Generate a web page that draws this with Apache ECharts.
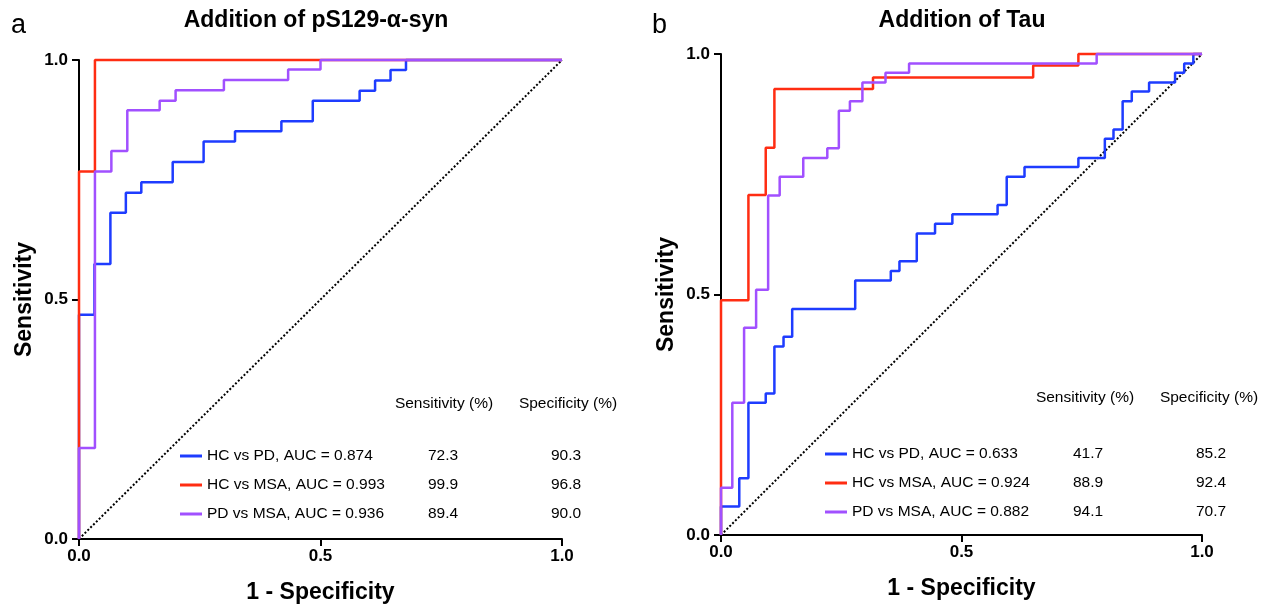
<!DOCTYPE html>
<html>
<head>
<meta charset="utf-8">
<script src="https://cdn.jsdelivr.net/npm/echarts@6/dist/echarts.min.js"></script>
<style>
  html, body { margin: 0; padding: 0; background: #fff; }
  #chart { width: 1270px; height: 609px; }
</style>
</head>
<body>
<div id="chart"></div>
<script>
// ROC points (1 - specificity, sensitivity), one corner per step
const aBlueFpr = [0, 0, 0.032, 0.065, 0.097, 0.129, 0.194, 0.258, 0.323, 0.419, 0.484, 0.581, 0.613, 0.645, 0.677, 1];
const aBlueTpr = [0, 0.468, 0.574, 0.681, 0.723, 0.745, 0.787, 0.830, 0.851, 0.872, 0.915, 0.936, 0.957, 0.979, 1, 1];
const aRedFpr = [0, 0, 0.033, 1];
const aRedTpr = [0, 0.767, 1, 1];
const aPurpleFpr = [0, 0, 0.033, 0.067, 0.1, 0.167, 0.2, 0.3, 0.433, 0.5, 1];
const aPurpleTpr = [0, 0.19, 0.767, 0.81, 0.895, 0.915, 0.937, 0.958, 0.98, 1, 1];

const bBlueFpr = [0, 0, 0.038, 0.057, 0.093, 0.111, 0.13, 0.148, 0.279, 0.353, 0.371, 0.407, 0.445, 0.481, 0.575, 0.594, 0.631, 0.743, 0.798, 0.816, 0.835, 0.854, 0.89, 0.944, 0.963, 0.982, 1];
const bBlueTpr = [0, 0.059, 0.118, 0.275, 0.294, 0.392, 0.412, 0.47, 0.529, 0.549, 0.569, 0.627, 0.647, 0.667, 0.686, 0.745, 0.765, 0.784, 0.824, 0.843, 0.902, 0.922, 0.941, 0.961, 0.98, 1, 1];
const bRedFpr = [0, 0, 0.057, 0.093, 0.111, 0.316, 0.649, 0.743, 1];
const bRedTpr = [0, 0.488, 0.707, 0.805, 0.927, 0.951, 0.976, 1, 1];
const bPurpleFpr = [0, 0, 0.0235, 0.048, 0.073, 0.098, 0.122, 0.171, 0.221, 0.245, 0.268, 0.294, 0.342, 0.391, 0.781, 1];
const bPurpleTpr = [0, 0.098, 0.275, 0.431, 0.51, 0.706, 0.745, 0.784, 0.804, 0.882, 0.902, 0.941, 0.961, 0.98, 1, 1];

const titles = ['Addition of pS129-α-syn', 'Addition of Tau'];
const panelLetters = ['a', 'b'];
const aNames = ['HC vs PD, AUC = 0.874', 'HC vs MSA, AUC = 0.993', 'PD vs MSA, AUC = 0.936'];
const bNames = ['HC vs PD, AUC = 0.633', 'HC vs MSA, AUC = 0.924', 'PD vs MSA, AUC = 0.882'];
const aSens = ['72.3', '99.9', '89.4'];
const aSpec = ['90.3', '96.8', '90.0'];
const bSens = ['41.7', '88.9', '94.1'];
const bSpec = ['85.2', '92.4', '70.7'];
const tableHeads = ['Sensitivity (%)', 'Specificity (%)'];
const xTicks = [0, 0.5, 1];

const colors = ['#1e3cff', '#ff2d12', '#a150ff'];
const font = '"Liberation Sans", Arial, sans-serif';
const legendSize = 15.5;

// turn ROC corners into a staircase (horizontal, then vertical)
const stairs = (fpr, tpr) => {
    const pts = [[fpr[0], tpr[0]]];
    for (let i = 1; i < fpr.length; i++) {
        pts.push([fpr[i], tpr[i - 1]]);
        pts.push([fpr[i], tpr[i]]);
    }
    return pts;
};

const grids = [
    {left: 79, right: 708, top: 60, bottom: 69},
    {left: 721, right: 68, top: 54, bottom: 74},
];

const makeAxis = (idx, name, isY) => ({
    type: 'value',
    gridIndex: idx,
    min: 0,
    max: 1,
    interval: 0.5,
    name,
    nameLocation: 'middle',
    nameGap: isY ? 43 : 42,
    nameTextStyle: {fontFamily: font, fontSize: 23, fontWeight: 'bold', color: '#000'},
    axisLine: {show: true, onZero: false, lineStyle: {color: '#000', width: 2}},
    axisTick: {show: true, length: 7, lineStyle: {color: '#000', width: 2}},
    axisLabel: {
        fontFamily: font, fontSize: 17, fontWeight: 'bold', color: '#000', margin: isY ? 11 : 9,
        formatter: v => xTicks.includes(v) ? v.toFixed(1) : '',
    },
    splitLine: {show: false},
});

const panelSeries = (idx, names, fprs, tprs) => {
    const list = names.map((n, i) => ({
        type: 'line',
        name: n,
        xAxisIndex: idx,
        yAxisIndex: idx,
        data: stairs(fprs[i], tprs[i]),
        showSymbol: false,
        clip: false,
        silent: true,
        lineStyle: {color: colors[i], width: 2.5},
        itemStyle: {color: colors[i]},
        z: 3 + i,
    }));
    list.unshift({
        type: 'line',
        xAxisIndex: idx,
        yAxisIndex: idx,
        data: [[0, 0], [1, 1]],
        showSymbol: false,
        silent: true,
        lineStyle: {color: '#000', width: 2, type: [2, 2]},
        z: 2,
    });
    return list;
};

const richCell = (extra) => ({fontFamily: font, fontSize: legendSize, lineHeight: 17, color: '#000', ...extra});

const makeLegend = (names, sens, spec, left, top) => ({
    data: names,
    orient: 'vertical',
    left,
    top,
    itemWidth: 22,
    itemHeight: 3,
    itemGap: 13,
    icon: 'rect',
    selectedMode: false,
    textStyle: {
        fontFamily: font,
        fontSize: legendSize,
        color: '#000',
        rich: {
            n: richCell({width: 201}),
            s: richCell({width: 70, align: 'center'}),
            p: richCell({width: 176, align: 'center'}),
        },
    },
    formatter: name => {
        const i = names.indexOf(name);
        return `{n|${name}}{s|${sens[i]}}{p|${spec[i]}}`;
    },
});

const headText = (x, y, text) => ({
    type: 'text', x, y,
    style: {text, font: `${legendSize}px ${font}`, fill: '#000', align: 'center', verticalAlign: 'middle'},
});

const titleText = (x, text) => ({
    type: 'text', x, y: 21,
    style: {text, font: `bold 23px ${font}`, fill: '#000', align: 'center', verticalAlign: 'middle'},
});

const letterText = (x, text) => ({
    type: 'text', x, y: 26,
    style: {text, font: `27px ${font}`, fill: '#000', align: 'left', verticalAlign: 'middle'},
});

const option = {
    animation: false,
    backgroundColor: '#fff',
    grid: grids,
    xAxis: [makeAxis(0, '1 - Specificity', false), makeAxis(1, '1 - Specificity', false)],
    yAxis: [makeAxis(0, 'Sensitivity', true), makeAxis(1, 'Sensitivity', true)],
    legend: [
        makeLegend(aNames, aSens, aSpec, 175, 443),
        makeLegend(bNames, bSens, bSpec, 820, 441),
    ],
    series: [
        ...panelSeries(0, aNames, [aBlueFpr, aRedFpr, aPurpleFpr], [aBlueTpr, aRedTpr, aPurpleTpr]),
        ...panelSeries(1, bNames, [bBlueFpr, bRedFpr, bPurpleFpr], [bBlueTpr, bRedTpr, bPurpleTpr]),
    ],
    graphic: [
        titleText(316, titles[0]),
        titleText(962, titles[1]),
        letterText(11, panelLetters[0]),
        letterText(652, panelLetters[1]),
        headText(444, 404, tableHeads[0]),
        headText(568, 404, tableHeads[1]),
        headText(1085, 398, tableHeads[0]),
        headText(1209, 398, tableHeads[1]),
    ],
};

const chart = echarts.init(document.getElementById('chart'), null, {renderer: 'canvas'});
chart.setOption(option);
</script>
</body>
</html>
